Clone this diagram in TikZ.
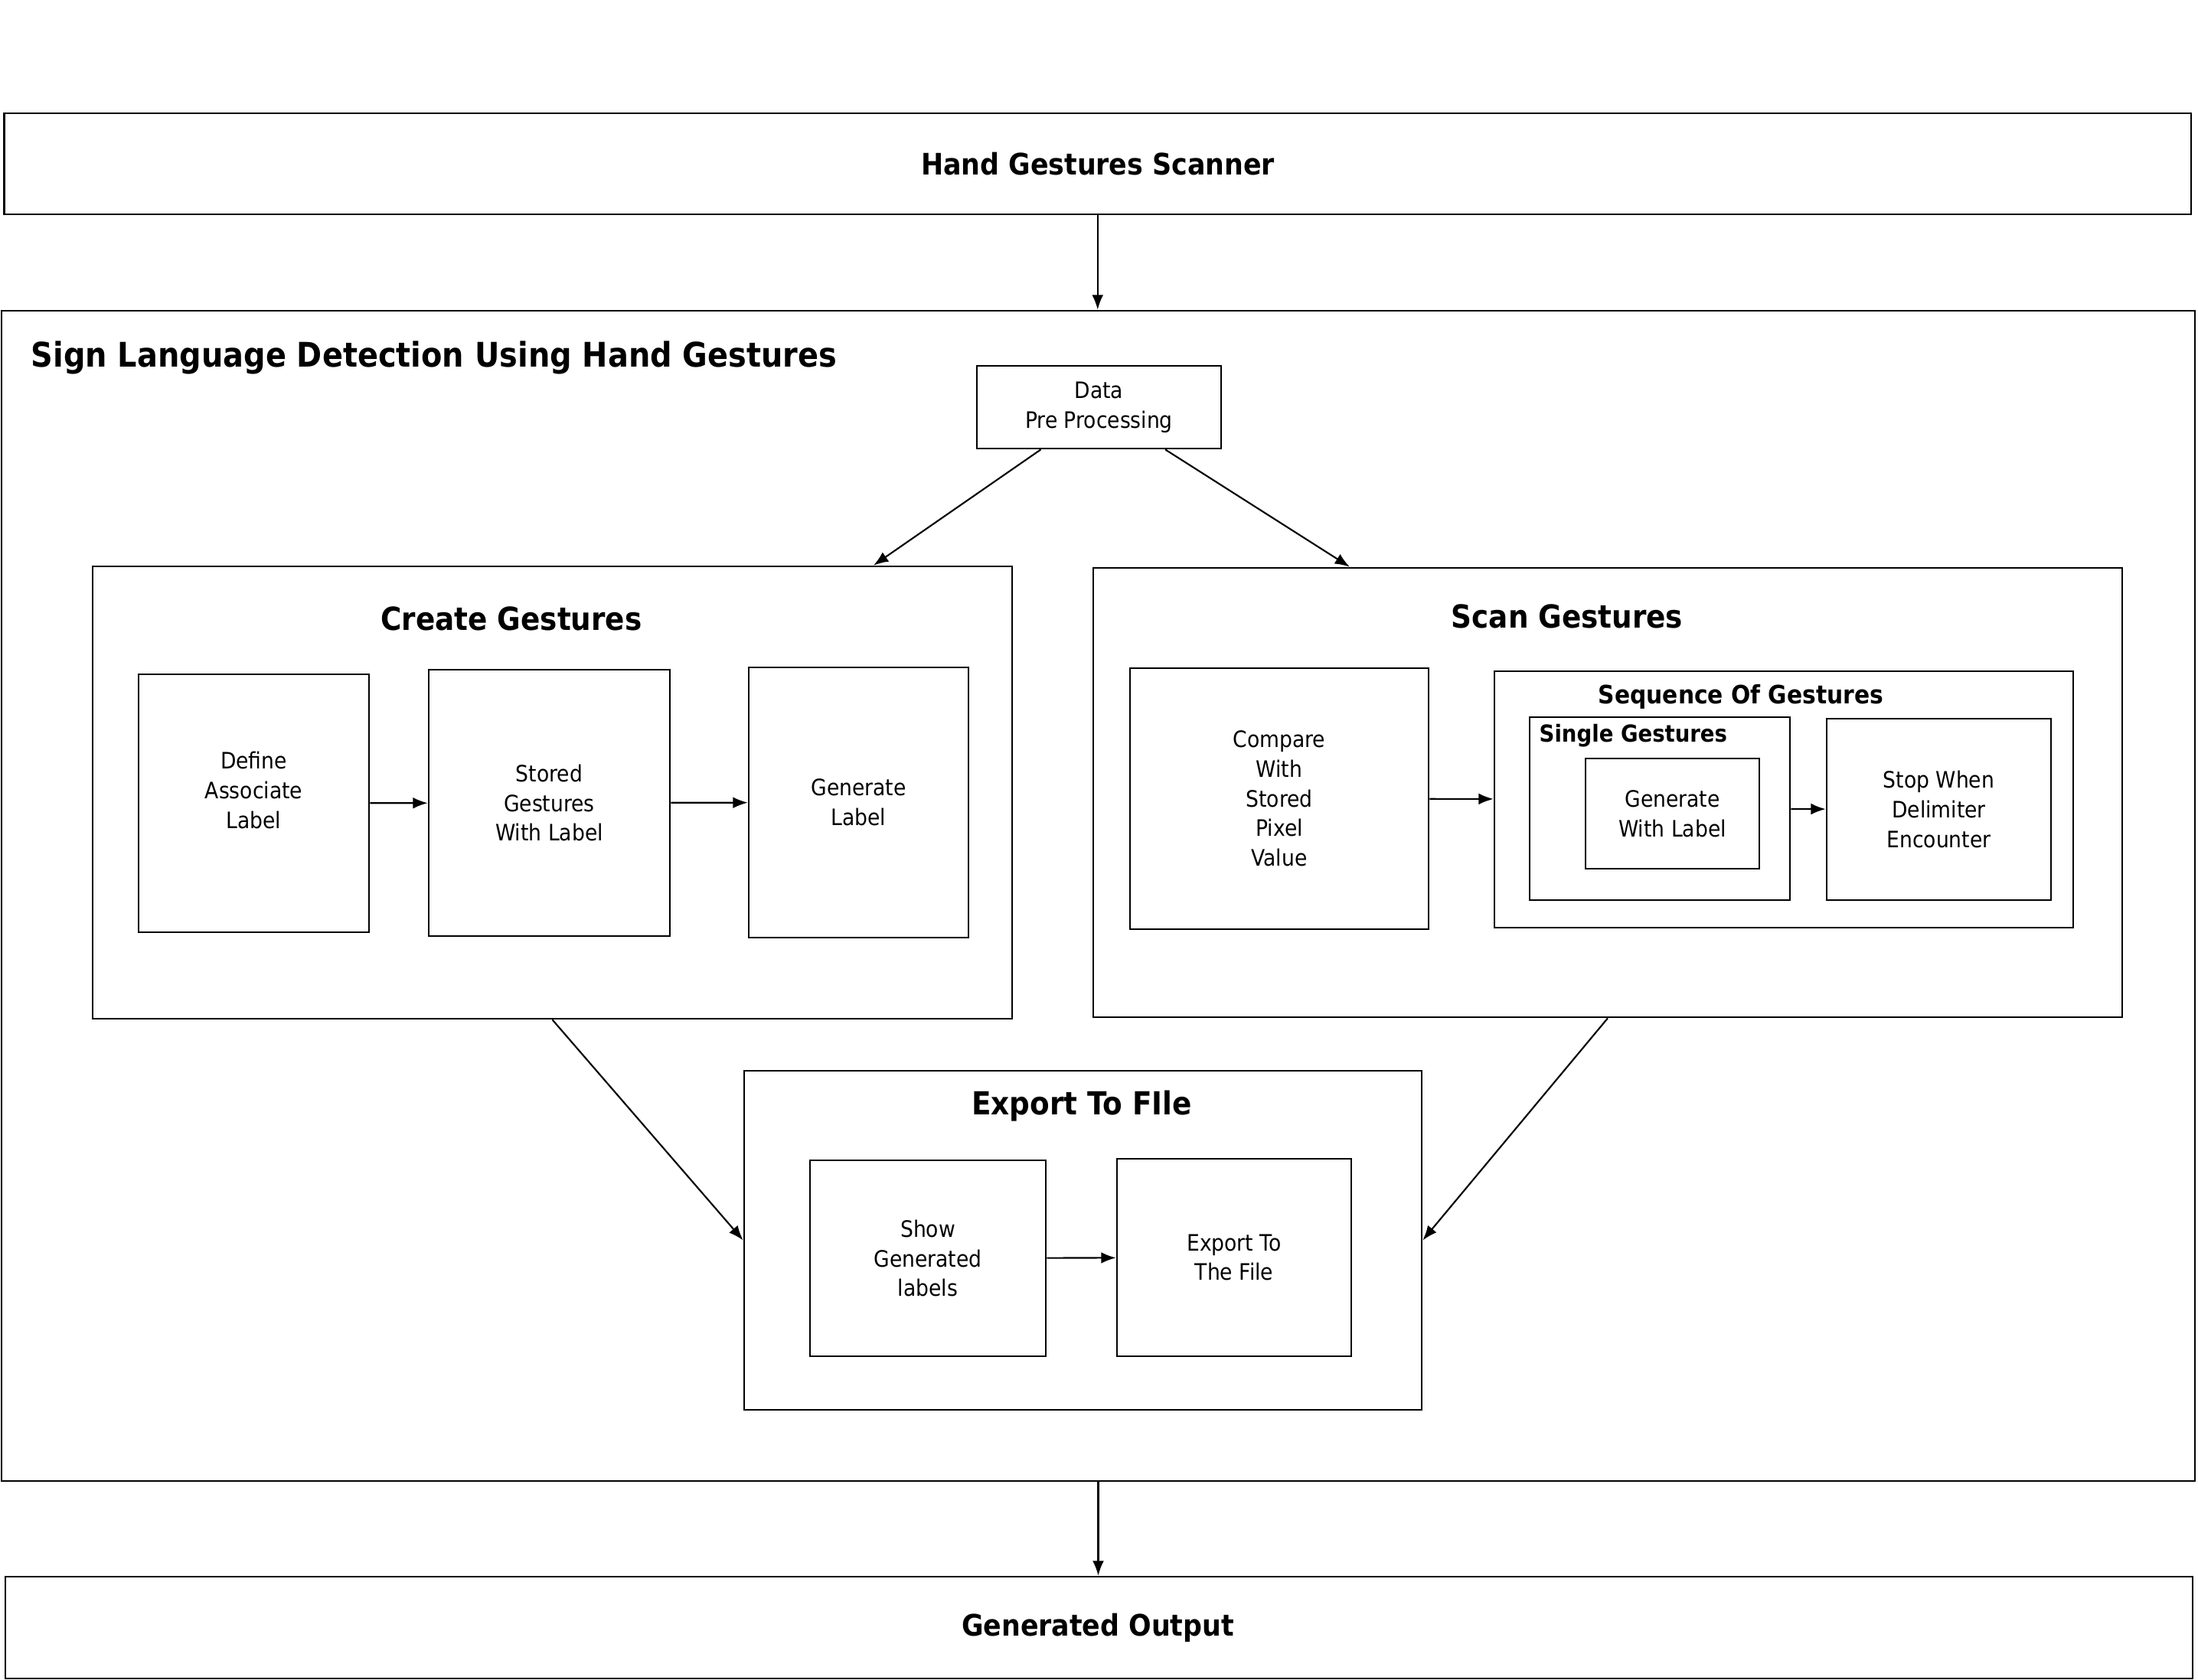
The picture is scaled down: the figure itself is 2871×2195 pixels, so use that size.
\documentclass[tikz,border=0pt]{standalone}
\usepackage{fontspec}
\setmainfont{DejaVu Sans}[FakeStretch=0.9]
\usetikzlibrary{fit,calc,arrows.meta}
\tikzset{
  box/.style={draw, line width=0.75pt, inner sep=0pt},
  txt/.style={font=\fontsize{8.4pt}{11pt}\selectfont, align=center, inner sep=0pt},
  bigtitle/.style={font=\fontsize{11pt}{13pt}\selectfont\bfseries, inner sep=0pt},
  subtitle/.style={font=\fontsize{11.8pt}{14pt}\selectfont\bfseries, inner sep=0pt},
  arr/.style={line width=0.6pt, -{Latex[length=5.5pt,width=4.2pt]}}
}
\begin{document}
\begin{tikzpicture}[x=0.01cm,y=-0.01cm]
\useasboundingbox (0,0) rectangle (2871,2195);

% top and bottom bars
\node[box, fit={(5.5,148)(2862,280)}] (scanner) {};
\node[bigtitle] (scannert) at (1434,214) {Hand Gestures Scanner};
\node[box, fit={(7,2060)(2864,2193)}] (output) {};
\node[bigtitle] (outputt) at (1434,2127) {Generated Output};

% outer container
\node[box, fit={(2,406)(2867,1935)}] (outer) {};
\node[font=\fontsize{12.6pt}{15pt}\selectfont\bfseries, inner sep=0pt, anchor=west] (outert) at (40,467) {Sign Language Detection Using Hand Gestures};

% data pre processing
\node[box, fit={(1276,478)(1595,586)}, label={[txt]center:Data\\Pre Processing}] (data) {};

% create gestures
\node[box, fit={(121,740)(1322,1331)}] (create) {};
\node[subtitle] (createt) at (668,808) {Create Gestures};
\node[box, fit={(181,881)(482,1218)}, label={[txt,yshift=0.17cm]center:Define\\Associate\\Label}] (define) {};
\node[box, fit={(560,875)(875,1223)}, label={[txt]center:Stored\\Gestures\\With Label}] (stored) {};
\node[box, fit={(978,872)(1265,1225)}, label={[txt]center:Generate\\Label}] (genlabel) {};

% scan gestures
\node[box, fit={(1428,742)(2772,1329)}] (scan) {};
\node[subtitle] (scant) at (2047,805) {Scan Gestures};
\node[box, fit={(1476,873)(1866,1214)}, label={[txt]center:Compare\\With\\Stored\\Pixel\\Value}] (compare) {};
\node[box, fit={(1952,877)(2708,1212)}] (seq) {};
\node[font=\fontsize{9.4pt}{11pt}\selectfont\bfseries, inner sep=0pt] (seqt) at (2274,910) {Sequence Of Gestures};
\node[box, fit={(1998,937)(2338,1176)}] (single) {};
\node[font=\fontsize{8.7pt}{11pt}\selectfont\bfseries, inner sep=0pt, anchor=west] (singlet) at (2010,961) {Single Gestures};
\node[box, fit={(2071,991)(2298,1135)}, label={[txt]center:Generate\\With Label}] (genwith) {};
\node[box, fit={(2386,939)(2679,1176)}, label={[txt]center:Stop When\\Delimiter\\Encounter}] (stop) {};

% export to file
\node[box, fit={(972,1399)(1857,1842)}] (export) {};
\node[subtitle] (exportt) at (1413,1445) {Export To FIle};
\node[box, fit={(1058,1516)(1366,1772)}, label={[txt]center:Show\\Generated\\labels}] (show) {};
\node[box, fit={(1459,1514)(1765,1772)}, label={[txt]center:Export To\\The File}] (exportf) {};

% connectors
\draw[arr] (scanner.south) -- (scanner.south |- outer.north);
\draw[arr] (outer.south) -- (outer.south |- output.north);
\draw[arr] ($(data.south)+(-76,0)$) -- ($(create.north)+(419.5,0)$);
\draw[arr] ($(data.south)+(86.5,0)$) -- ($(scan.north)+(-337,0)$);
\draw[arr] (create.south) -- (export.west);
\draw[arr] (scan.south) -- (export.east);
\draw[arr] (define) -- (stored);
\draw[arr] (stored) -- (genlabel);
\draw[arr] (compare) -- (seq);
\draw[arr] (single) -- (stop);
\draw[arr] (show) -- (exportf);
\end{tikzpicture}
\end{document}
